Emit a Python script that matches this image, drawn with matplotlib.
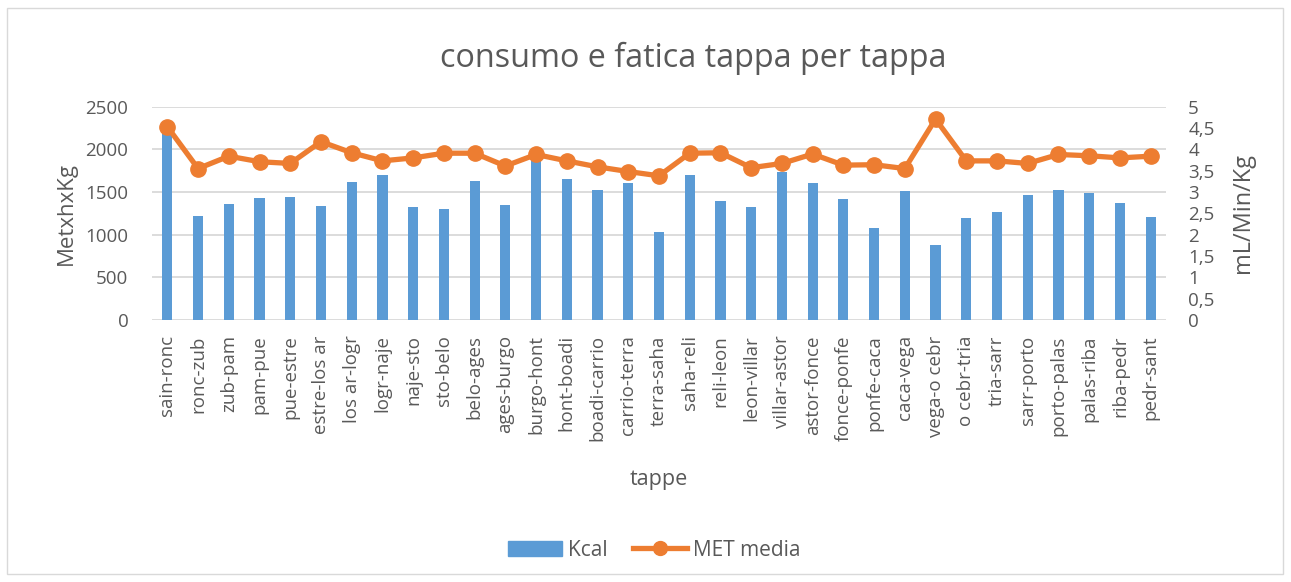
import matplotlib.pyplot as plt
from matplotlib.patches import Rectangle
from matplotlib.lines import Line2D

plt.rcParams['font.family'] = ['Open Sans', 'DejaVu Sans']

# stages
tappe = ["sain-ronc", "ronc-zub", "zub-pam", "pam-pue", "pue-estre", "estre-los ar",
         "los ar-logr", "logr-naje", "naje-sto", "sto-belo", "belo-ages", "ages-burgo",
         "burgo-hont", "hont-boadi", "boadi-carrio", "carrio-terra", "terra-saha",
         "saha-reli", "reli-leon", "leon-villar", "villar-astor", "astor-fonce",
         "fonce-ponfe", "ponfe-caca", "caca-vega", "vega-o cebr", "o cebr-tria",
         "tria-sarr", "sarr-porto", "porto-palas", "palas-riba", "riba-pedr", "pedr-sant"]

kcal = [2230, 1220, 1356, 1426, 1438, 1336, 1614, 1696, 1320, 1305, 1633, 1348,
        1930, 1649, 1528, 1602, 1035, 1703, 1395, 1320, 1739, 1602, 1422, 1074,
        1512, 879, 1195, 1262, 1461, 1520, 1492, 1371, 1207]

met = [4.53, 3.55, 3.84, 3.71, 3.67, 4.18, 3.92, 3.73, 3.80, 3.91, 3.91, 3.61,
       3.88, 3.73, 3.59, 3.48, 3.38, 3.91, 3.92, 3.57, 3.67, 3.89, 3.63, 3.64,
       3.55, 4.71, 3.73, 3.73, 3.67, 3.88, 3.85, 3.80, 3.84]

blue = '#5B9BD5'
orange = '#ED7D31'
txt = '#595959'
grid = '#D9D9D9'

fig = plt.figure(figsize=(12.91, 5.82), dpi=100)
fig.patches.append(Rectangle((7 / 1291, 8 / 582), 1276 / 1291, 566 / 582,
                             transform=fig.transFigure, fill=False,
                             edgecolor=grid, linewidth=1))

ax = fig.add_axes([152 / 1291, 1 - 320 / 582, 1014 / 1291, 213.3 / 582])
x = list(range(len(tappe)))
ax.bar(x, kcal, width=0.33, color=blue, zorder=2)
ax.set_ylim(0, 2500)
ax.set_yticks(range(0, 2501, 500))
ax.set_xlim(-0.5, len(tappe) - 0.5)
ax.set_xticks(x)
ax.set_xticklabels(tappe, rotation=90)
ax.yaxis.grid(True, color=grid, linewidth=1.3)
ax.set_axisbelow(True)
for s in ax.spines.values():
    s.set_visible(False)
ax.tick_params(axis='both', length=0, colors=txt, labelsize=13.5)
ax.tick_params(axis='y', pad=17)
ax.tick_params(axis='x', pad=11)
ax.set_ylabel("MetxhxKg", color=txt, fontsize=16, labelpad=6)
ax.set_xlabel("tappe", color=txt, fontsize=15.5, labelpad=20)

ax2 = ax.twinx()
ax2.plot(x, met, color=orange, linewidth=3.8, marker='o', markersize=11, zorder=3)
ax2.set_ylim(0, 5)
yt = [i * 0.5 for i in range(11)]
ax2.set_yticks(yt)
ax2.set_yticklabels([("%g" % v).replace('.', ',') for v in yt])
for s in ax2.spines.values():
    s.set_visible(False)
ax2.tick_params(axis='y', length=0, colors=txt, labelsize=13.5, pad=16)
ax2.set_ylabel("mL/Min/Kg", color=txt, fontsize=17, labelpad=12)

fig.text(693 / 1291, 1 - 58 / 582, "consumo e fatica tappa per tappa",
         ha='center', va='center', color=txt, fontsize=23.3)

handles = [Rectangle((0, 0), 1, 1, color=blue),
           Line2D([], [], color=orange, linewidth=3.8, marker='o', markersize=10)]
fig.legend(handles, ["Kcal", "MET media"], loc='center', ncol=2,
           bbox_to_anchor=(654 / 1291, 1 - 550 / 582), frameon=False,
           fontsize=15, labelcolor=txt, handlelength=2.6, columnspacing=1.2,
           handletextpad=0.3)

fig.savefig("out.png", dpi=100)
